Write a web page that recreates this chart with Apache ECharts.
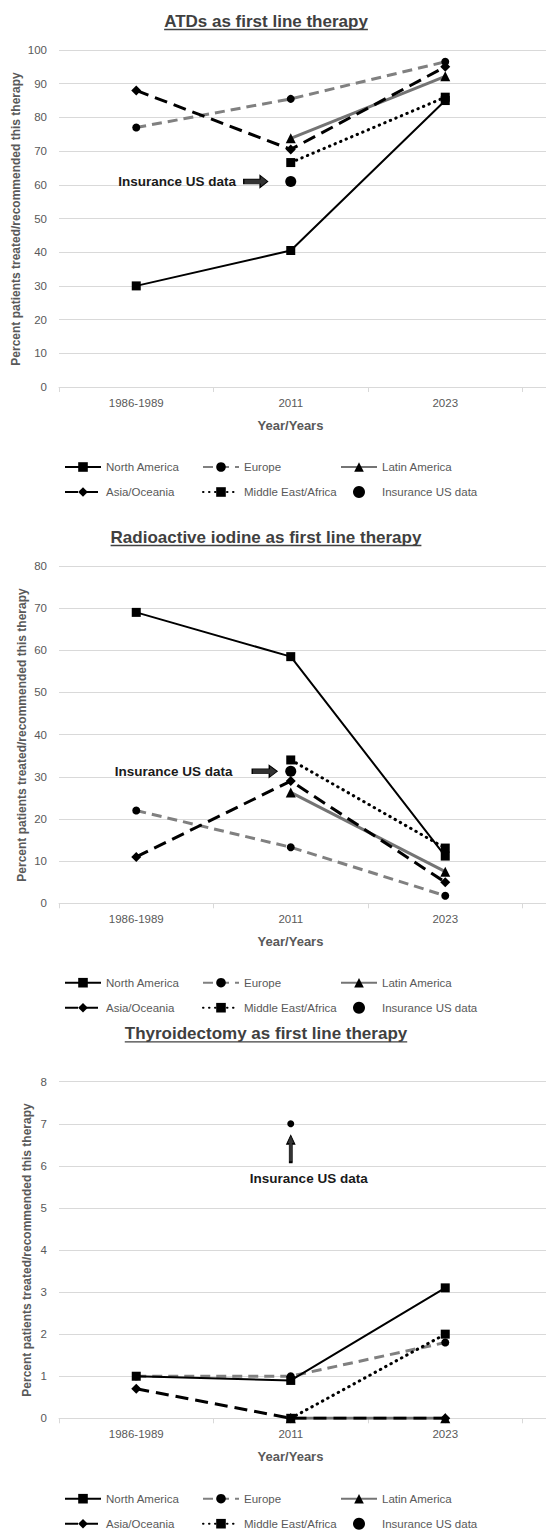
<!DOCTYPE html>
<html><head><meta charset="utf-8">
<script src="https://cdn.jsdelivr.net/npm/echarts@6/dist/echarts.min.js"></script>
<style>html,body{margin:0;padding:0;background:#fff}#c{width:546px;height:1531px}</style>
</head><body><div id="c"></div>
<script>
// ---- data ----
const categories = ['1986-1989', '2011', '2023'];
const seriesNames = ['North America', 'Europe', 'Latin America', 'Asia/Oceania', 'Middle East/Africa', 'Insurance US data'];
const chartTitles = ['ATDs as first line therapy', 'Radioactive iodine as first line therapy', 'Thyroidectomy as first line therapy'];
const yAxisMax = [100, 80, 8];
const yAxisInterval = [10, 10, 1];
const xAxisTitle = 'Year/Years';
const yAxisTitle = 'Percent patients treated/recommended this therapy';
const annotationText = 'Insurance US data';

// ATDs
const atdNorthAmerica = [30, 40.5, 85];
const atdEurope = [77, 85.5, 96.5];
const atdLatinAmerica = [null, 73.8, 92.2];
const atdAsiaOceania = [88, 70.5, 95];
const atdMiddleEastAfrica = [null, 66.6, 86];
const atdInsurance = [null, 61, null];
// Radioactive iodine
const raiNorthAmerica = [69, 58.5, 11.2];
const raiEurope = [22, 13.3, 1.8];
const raiLatinAmerica = [null, 26.3, 7.5];
const raiAsiaOceania = [11, 29, 5];
const raiMiddleEastAfrica = [null, 34, 13.1];
const raiInsurance = [null, 31.3, null];
// Thyroidectomy
const thyNorthAmerica = [1, 0.9, 3.1];
const thyEurope = [1, 1, 1.8];
const thyLatinAmerica = [null, 0, 0];
const thyAsiaOceania = [0.7, 0, 0];
const thyMiddleEastAfrica = [null, 0, 2];
const thyInsurance = [null, 7, null];

const chartData = [
  [atdNorthAmerica, atdEurope, atdLatinAmerica, atdAsiaOceania, atdMiddleEastAfrica, atdInsurance],
  [raiNorthAmerica, raiEurope, raiLatinAmerica, raiAsiaOceania, raiMiddleEastAfrica, raiInsurance],
  [thyNorthAmerica, thyEurope, thyLatinAmerica, thyAsiaOceania, thyMiddleEastAfrica, thyInsurance]
];

// ---- styles / layout ----
const FONT = '"Liberation Sans", Arial, sans-serif';
const GRAY_TEXT = '#595959';
const GRID_LINE = '#d9d9d9';
const TITLE_COLOR = '#404040';

const layout = [
  { gridTop: 50, gridHeight: 337, titleMid: 21.2, legendTop: 461, yNameX: 16, yNameY: 219, insSize: 11,
    ann: { dir: 'right', offset: [-35, 0], size: [24, 12], pos: 'left', dist: 7, lo: [0, 0] } },
  { gridTop: 566, gridHeight: 337.3, titleMid: 537.2, legendTop: 976.7, yNameX: 22, yNameY: 735, insSize: 11,
    ann: { dir: 'right', offset: [-26, 0], size: [25, 12], pos: 'left', dist: 19, lo: [0, 0] } },
  { gridTop: 1081.7, gridHeight: 336.6, titleMid: 1033.5, legendTop: 1492.7, yNameX: 27, yNameY: 1250, insSize: 7,
    ann: { dir: 'up', offset: [0, 25], size: [8, 27], pos: 'bottom', dist: 8, lo: [18, 0] } }
];

const lineStyles = {
  'North America': { symbol: 'rect', symbolSize: 9, lineStyle: { color: '#000', width: 2, type: 'solid' } },
  'Europe': { symbol: 'circle', symbolSize: 8, lineStyle: { color: '#808080', width: 3, type: [10, 6] } },
  'Latin America': { symbol: 'triangle', symbolSize: 10, lineStyle: { color: '#747474', width: 3, type: 'solid' } },
  'Asia/Oceania': { symbol: 'diamond', symbolSize: 10, lineStyle: { color: '#000', width: 3, type: [13, 7] } },
  'Middle East/Africa': { symbol: 'rect', symbolSize: 9, lineStyle: { color: '#000', width: 3, type: [0.5, 5.5], cap: 'round' } }
};

const ARROW_RIGHT = 'path://M0,3L15,3L15,0L22,5L15,10L15,7L0,7Z';
const ARROW_UP = 'path://M3,22L3,7L0,7L5,0L10,7L7,7L7,22Z';

const bandWidth = 154.5;
const plotLeft = 59;
const plotWidth = 487;
const xMax = -0.5 + plotWidth / bandWidth;

function toPoints(values) {
  return values.map((v, i) => [i, v]).filter(d => d[1] != null);
}

const ctx = document.createElement('canvas').getContext('2d');
ctx.font = 'bold 17px ' + FONT;

const grid = [], xAxis = [], yAxis = [], series = [], title = [], legend = [], graphic = [];

layout.forEach((L, k) => {
  grid.push({ left: plotLeft, width: plotWidth, top: L.gridTop, height: L.gridHeight, containLabel: false });
  xAxis.push({
    type: 'value', gridIndex: k, min: -0.5, max: xMax,
    name: xAxisTitle, nameLocation: 'middle', nameGap: 32, nameMoveOverlap: false,
    nameTextStyle: { fontFamily: FONT, fontSize: 13, fontWeight: 'bold', color: GRAY_TEXT, padding: [0, 24, 0, 0] },
    axisLine: { show: true, lineStyle: { color: GRID_LINE, width: 1 } },
    axisTick: { show: true, customValues: [-0.5, 0.5, 1.5, 2.5], length: 5, lineStyle: { color: GRID_LINE } },
    axisLabel: { customValues: [0, 1, 2], formatter: v => categories[Math.round(v)], fontFamily: FONT, fontSize: 11.5, color: GRAY_TEXT, margin: 10 },
    splitLine: { show: false }
  });
  yAxis.push({
    type: 'value', gridIndex: k, min: 0, max: yAxisMax[k], interval: yAxisInterval[k],
    axisLine: { show: false }, axisTick: { show: false },
    axisLabel: { fontFamily: FONT, fontSize: 11.5, color: GRAY_TEXT, margin: 12 },
    splitLine: { show: true, lineStyle: { color: GRID_LINE, width: 1 } }
  });
  // y axis title as rotated text
  graphic.push({ type: 'text', silent: true, x: L.yNameX, y: L.yNameY, rotation: Math.PI / 2,
    style: { text: yAxisTitle, fontFamily: FONT, fontSize: 12, fontWeight: 'bold', fill: GRAY_TEXT,
      align: 'center', verticalAlign: 'middle' } });
  const vals = chartData[k];
  seriesNames.forEach((name, j) => {
    if (j < 5) {
      const st = lineStyles[name];
      series.push({
        type: 'line', name, xAxisIndex: k, yAxisIndex: k, data: toPoints(vals[j]),
        symbol: st.symbol, symbolSize: st.symbolSize, showSymbol: true,
        lineStyle: st.lineStyle, itemStyle: { color: '#000', opacity: 1 },
        emphasis: { disabled: true }, z: j === 0 ? 4 : 3
      });
    } else {
      const A = L.ann;
      series.push({
        type: 'scatter', name, xAxisIndex: k, yAxisIndex: k, data: toPoints(vals[j]),
        symbol: 'circle', symbolSize: L.insSize, itemStyle: { color: '#000', opacity: 1 },
        emphasis: { disabled: true }, z: 5,
        markPoint: {
          silent: true,
          data: toPoints(vals[j]).map(p => ({
            coord: p,
            symbol: A.dir === 'right' ? ARROW_RIGHT : ARROW_UP,
            symbolSize: A.size, symbolOffset: A.offset, symbolKeepAspect: false,
            itemStyle: { color: '#333', borderColor: '#000', borderWidth: 1, opacity: 1 },
            label: { show: true, position: A.pos, distance: A.dist, offset: A.lo, formatter: annotationText,
              fontFamily: FONT, fontSize: 13.5, fontWeight: 'bold', color: '#1a1a1a' }
          }))
        }
      });
    }
  });
  // title
  title.push({
    text: chartTitles[k], left: 266, textAlign: 'center', top: L.titleMid - 8.5, padding: 0,
    textStyle: { fontFamily: FONT, fontSize: 17, fontWeight: 'bold', color: TITLE_COLOR }
  });
  const tw = ctx.measureText(chartTitles[k]).width;
  graphic.push({ type: 'line', silent: true,
    shape: { x1: 266 - tw / 2, y1: L.titleMid + 8.3, x2: 266 + tw / 2, y2: L.titleMid + 8.3 },
    style: { stroke: TITLE_COLOR, lineWidth: 1.3 } });
  // legends, three columns
  const cols = [[seriesNames[0], seriesNames[3]], [seriesNames[1], seriesNames[4]], [seriesNames[2], seriesNames[5]]];
  const colLeft = [64, 202, 340];
  cols.forEach((names, c) => {
    legend.push({
      orient: 'vertical', left: colLeft[c], top: L.legendTop, padding: 0,
      itemWidth: 36, itemHeight: 12, itemGap: 13, selectedMode: false,
      data: names,
      textStyle: { fontFamily: FONT, fontSize: 11.5, color: GRAY_TEXT }
    });
  });
});

const chart = echarts.init(document.getElementById('c'), null, { renderer: 'svg', width: 546, height: 1531 });
chart.setOption({
  backgroundColor: '#fff',
  animation: false,
  textStyle: { fontFamily: FONT },
  title, grid, xAxis, yAxis, legend, series, graphic
});
</script>
</body></html>
